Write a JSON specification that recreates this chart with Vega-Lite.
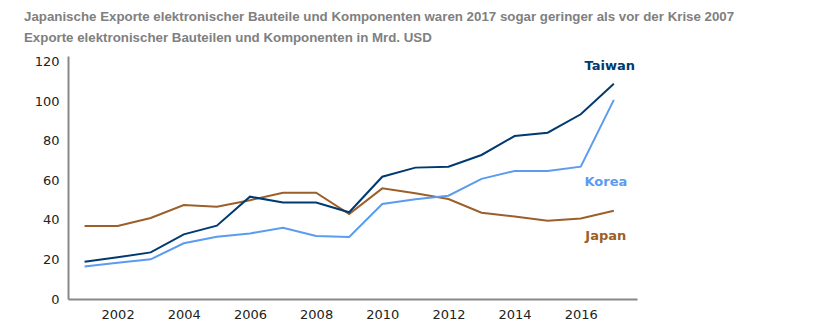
{
  "$schema": "https://vega.github.io/schema/vega-lite/v6.json",
  "width": 569,
  "height": 243,
  "autosize": "none",
  "padding": {"left": 68, "top": 56, "right": 186, "bottom": 31},
  "background": "white",
  "title": {
    "text": "Japanische Exporte elektronischer Bauteile und Komponenten waren 2017 sogar geringer als vor der Krise 2007",
    "subtitle": "Exporte elektronischer Bauteilen und Komponenten in Mrd. USD",
    "anchor": "start",
    "frame": "group",
    "dx": -44,
    "offset": 12,
    "font": "Liberation Sans",
    "fontSize": 13.3,
    "fontWeight": "bold",
    "color": "#808080",
    "subtitleFont": "Liberation Sans",
    "subtitleFontSize": 13.3,
    "subtitleFontWeight": "bold",
    "subtitleColor": "#808080",
    "subtitlePadding": 7
  },
  "config": {
    "view": {"stroke": null},
    "axis": {"grid": false, "ticks": false, "domainColor": "#888888", "domainWidth": 2, "labelFont": "DejaVu Sans", "labelFontSize": 13, "labelColor": "#222222", "title": null}
  },
  "data": {
    "values": [
      {"year": 2001, "country": "Japan", "value": 37},
      {"year": 2002, "country": "Japan", "value": 37},
      {"year": 2003, "country": "Japan", "value": 41},
      {"year": 2004, "country": "Japan", "value": 47.6},
      {"year": 2005, "country": "Japan", "value": 46.7},
      {"year": 2006, "country": "Japan", "value": 50},
      {"year": 2007, "country": "Japan", "value": 53.8},
      {"year": 2008, "country": "Japan", "value": 53.8},
      {"year": 2009, "country": "Japan", "value": 43},
      {"year": 2010, "country": "Japan", "value": 56},
      {"year": 2011, "country": "Japan", "value": 53.5},
      {"year": 2012, "country": "Japan", "value": 50.6},
      {"year": 2013, "country": "Japan", "value": 43.7},
      {"year": 2014, "country": "Japan", "value": 41.7},
      {"year": 2015, "country": "Japan", "value": 39.6},
      {"year": 2016, "country": "Japan", "value": 40.8},
      {"year": 2017, "country": "Japan", "value": 44.7},
      {"year": 2001, "country": "Korea", "value": 16.4},
      {"year": 2002, "country": "Korea", "value": 18.4},
      {"year": 2003, "country": "Korea", "value": 20.1},
      {"year": 2004, "country": "Korea", "value": 28.2},
      {"year": 2005, "country": "Korea", "value": 31.5},
      {"year": 2006, "country": "Korea", "value": 33.2},
      {"year": 2007, "country": "Korea", "value": 36.1},
      {"year": 2008, "country": "Korea", "value": 31.9},
      {"year": 2009, "country": "Korea", "value": 31.4},
      {"year": 2010, "country": "Korea", "value": 48.1},
      {"year": 2011, "country": "Korea", "value": 50.5},
      {"year": 2012, "country": "Korea", "value": 52.3},
      {"year": 2013, "country": "Korea", "value": 60.8},
      {"year": 2014, "country": "Korea", "value": 64.8},
      {"year": 2015, "country": "Korea", "value": 64.8},
      {"year": 2016, "country": "Korea", "value": 67},
      {"year": 2017, "country": "Korea", "value": 100.8},
      {"year": 2001, "country": "Taiwan", "value": 18.9},
      {"year": 2002, "country": "Taiwan", "value": 21.1},
      {"year": 2003, "country": "Taiwan", "value": 23.6},
      {"year": 2004, "country": "Taiwan", "value": 32.7},
      {"year": 2005, "country": "Taiwan", "value": 37.1},
      {"year": 2006, "country": "Taiwan", "value": 51.8},
      {"year": 2007, "country": "Taiwan", "value": 48.8},
      {"year": 2008, "country": "Taiwan", "value": 48.8},
      {"year": 2009, "country": "Taiwan", "value": 43.9},
      {"year": 2010, "country": "Taiwan", "value": 61.9},
      {"year": 2011, "country": "Taiwan", "value": 66.5},
      {"year": 2012, "country": "Taiwan", "value": 67},
      {"year": 2013, "country": "Taiwan", "value": 72.9},
      {"year": 2014, "country": "Taiwan", "value": 82.5},
      {"year": 2015, "country": "Taiwan", "value": 84.2},
      {"year": 2016, "country": "Taiwan", "value": 93.5},
      {"year": 2017, "country": "Taiwan", "value": 108.9}
    ]
  },
  "encoding": {
    "x": {"field": "year", "type": "quantitative", "scale": {"domain": [2000.5, 2017.7], "nice": false, "zero": false},
          "axis": {"values": [2002, 2004, 2006, 2008, 2010, 2012, 2014, 2016], "format": "d", "labelPadding": 9}},
    "y": {"field": "value", "type": "quantitative", "scale": {"domain": [0, 123], "nice": false},
          "axis": {"values": [0, 20, 40, 60, 80, 100, 120], "labelPadding": 9}},
    "color": {"field": "country", "type": "nominal",
              "scale": {"domain": ["Taiwan", "Korea", "Japan"], "range": ["#003a70", "#5b9bf0", "#9b5f2a"]}, "legend": null}
  },
  "layer": [
    {"mark": {"type": "line", "strokeWidth": 2}},
    {"transform": [{"filter": "datum.year == 2017 && datum.country == 'Taiwan'"}],
     "mark": {"type": "text", "font": "DejaVu Sans", "fontSize": 13, "fontWeight": "bold", "dx": -4, "dy": -18},
     "encoding": {"text": {"field": "country"}}},
    {"transform": [{"filter": "datum.year == 2017 && datum.country == 'Korea'"}],
     "mark": {"type": "text", "font": "DejaVu Sans", "fontSize": 13, "fontWeight": "bold", "dx": -8, "dy": 82},
     "encoding": {"text": {"field": "country"}}},
    {"transform": [{"filter": "datum.year == 2017 && datum.country == 'Japan'"}],
     "mark": {"type": "text", "font": "DejaVu Sans", "fontSize": 13, "fontWeight": "bold", "dx": -8, "dy": 25},
     "encoding": {"text": {"field": "country"}}}
  ]
}
